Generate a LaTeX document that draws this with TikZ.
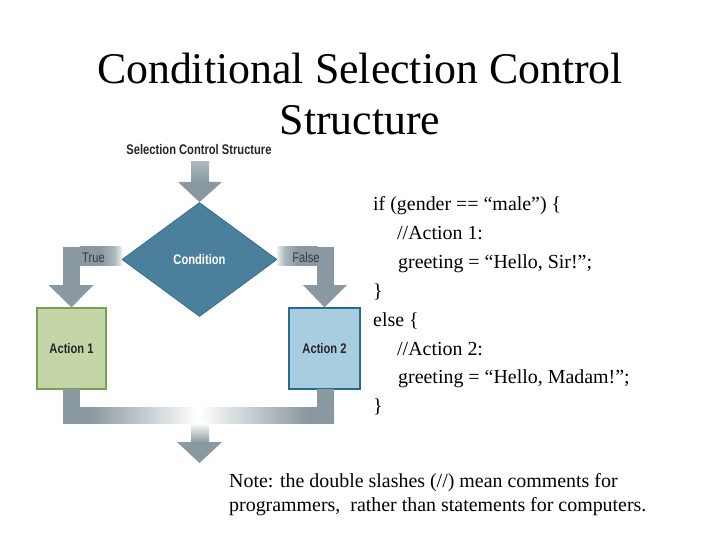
\documentclass[tikz,border=0pt]{standalone}
\usepackage{fontspec}
\setmainfont{Liberation Serif}
\newfontfamily\condfont[FakeStretch=0.8]{Liberation Sans}
\usetikzlibrary{shapes.geometric}
\definecolor{arrowgray}{RGB}{138,153,161}
\definecolor{midgray}{RGB}{172,183,189}
\definecolor{fadegray}{RGB}{232,236,238}
\definecolor{condfill}{RGB}{74,128,156}
\definecolor{condline}{RGB}{58,108,136}
\definecolor{actafill}{RGB}{196,214,168}
\definecolor{actaline}{RGB}{120,160,88}
\definecolor{actbfill}{RGB}{168,204,224}
\definecolor{actbline}{RGB}{40,108,140}
\definecolor{labelgray}{RGB}{55,60,62}
\pgfdeclarehorizontalshading{fadetoright}{100bp}{color(0bp)=(arrowgray); color(25bp)=(arrowgray); color(50bp)=(arrowgray); color(66bp)=(midgray); color(75bp)=(fadegray); color(100bp)=(fadegray)}
\pgfdeclarehorizontalshading{fadetoleft}{100bp}{color(0bp)=(fadegray); color(25bp)=(fadegray); color(34bp)=(midgray); color(50bp)=(arrowgray); color(75bp)=(arrowgray); color(100bp)=(arrowgray)}
\pgfdeclarehorizontalshading{fadecenter}{100bp}{color(0bp)=(arrowgray); color(25bp)=(arrowgray); color(30bp)=(arrowgray); color(50bp)=(white); color(70bp)=(arrowgray); color(75bp)=(arrowgray); color(100bp)=(arrowgray)}
\tikzset{
  flowlabel/.style={font=\condfont\bfseries\fontsize{14}{16}\selectfont, inner sep=0pt},
  branchlabel/.style={font=\condfont\fontsize{14}{16}\selectfont, text=labelgray, inner sep=0pt},
  codeline/.style={font=\fontsize{20}{24}\selectfont, anchor=base west, inner sep=0pt},
  titleline/.style={font=\fontsize{44}{48}\selectfont, anchor=base, inner sep=0pt},
  actionbox/.style={rectangle, line width=1.2bp, inner sep=0pt, font=\condfont\bfseries\fontsize{14}{16}\selectfont, text=black!85}
}
\begin{document}
\begin{tikzpicture}[x=1bp, y=-1bp]
\useasboundingbox (0,0) rectangle (720,540);
\fill[white] (0,0) rectangle (720,540);

% Title
\node[titleline] (title1) at (360,84) {Conditional Selection Control};
\node[titleline] (title2) at (360,135) {Structure};

% Flowchart heading
\node[flowlabel, text=black!85] (head) at (199,150) {Selection Control Structure};

% Nodes
\node[diamond, fill=condfill, draw=condline, line width=0.8bp, minimum width=155bp, minimum height=114bp, inner sep=0pt] (cond) at (199.5,259.5) {};
\node[flowlabel, text=white] (condtext) at (cond.center) {Condition};
\node[actionbox, fill=actafill, draw=actaline, minimum width=69bp, minimum height=81bp] (act1) at (71.5,348.5) {Action 1};
\node[actionbox, fill=actbfill, draw=actbline, minimum width=71bp, minimum height=81bp] (act2) at (324.5,348.5) {Action 2};

% Top arrow into condition
\shade[top color=midgray, bottom color=arrowgray] (191,162) rectangle (209,182.5);
\fill[arrowgray] (178,182) -- (222,182) -- (cond.north) -- cycle;

% True branch
\shade[shading=fadetoright] (79.5,247) rectangle (cond.west |- 0,265);
\fill[arrowgray] (63,247) rectangle (80,285.5);
\fill[arrowgray] (48.5,285) -- (93.5,285) -- (act1.north) -- cycle;
\node[branchlabel] (truelbl) at (93.5,257.5) {True};

% False branch
\shade[shading=fadetoleft] (cond.east |- 0,247) rectangle (317.5,265);
\fill[arrowgray] (317,247) rectangle (334,285.5);
\fill[arrowgray] (303,285) -- (347,285) -- (act2.north) -- cycle;
\node[branchlabel] (falselbl) at (306,257.5) {False};

% Merge
\fill[arrowgray] (63,389) rectangle (80,407.5);
\fill[arrowgray] (317,389) rectangle (334,407.5);
\shade[shading=fadecenter] (63,407) rectangle (334,423);
\shade[top color=white, bottom color=arrowgray] (191,423) rectangle (209,442.5);
\coordinate (exit) at (199.5,463);
\fill[arrowgray] (177,442) -- (222,442) -- (exit) -- cycle;

% Code
\node[codeline] (c1) at (373,211) {if (gender == “male”) \{};
\node[codeline] (c2) at (397,239.8) {//Action 1:};
\node[codeline] (c3) at (398,268.6) {greeting = “Hello, Sir!”;};
\node[codeline] (c4) at (373,297.4) {\}};
\node[codeline] (c5) at (373,326.2) {else \{};
\node[codeline] (c6) at (397,355) {//Action 2:};
\node[codeline] (c7) at (398,383.8) {greeting = “Hello, Madam!”;};
\node[codeline] (c8) at (373,412.6) {\}};

% Note
\node[codeline] (n1) at (229,487) {Note: the double slashes (//) mean comments for};
\node[codeline] (n2) at (229,511) {programmers,\ \ rather than statements for computers.};
\end{tikzpicture}
\end{document}
